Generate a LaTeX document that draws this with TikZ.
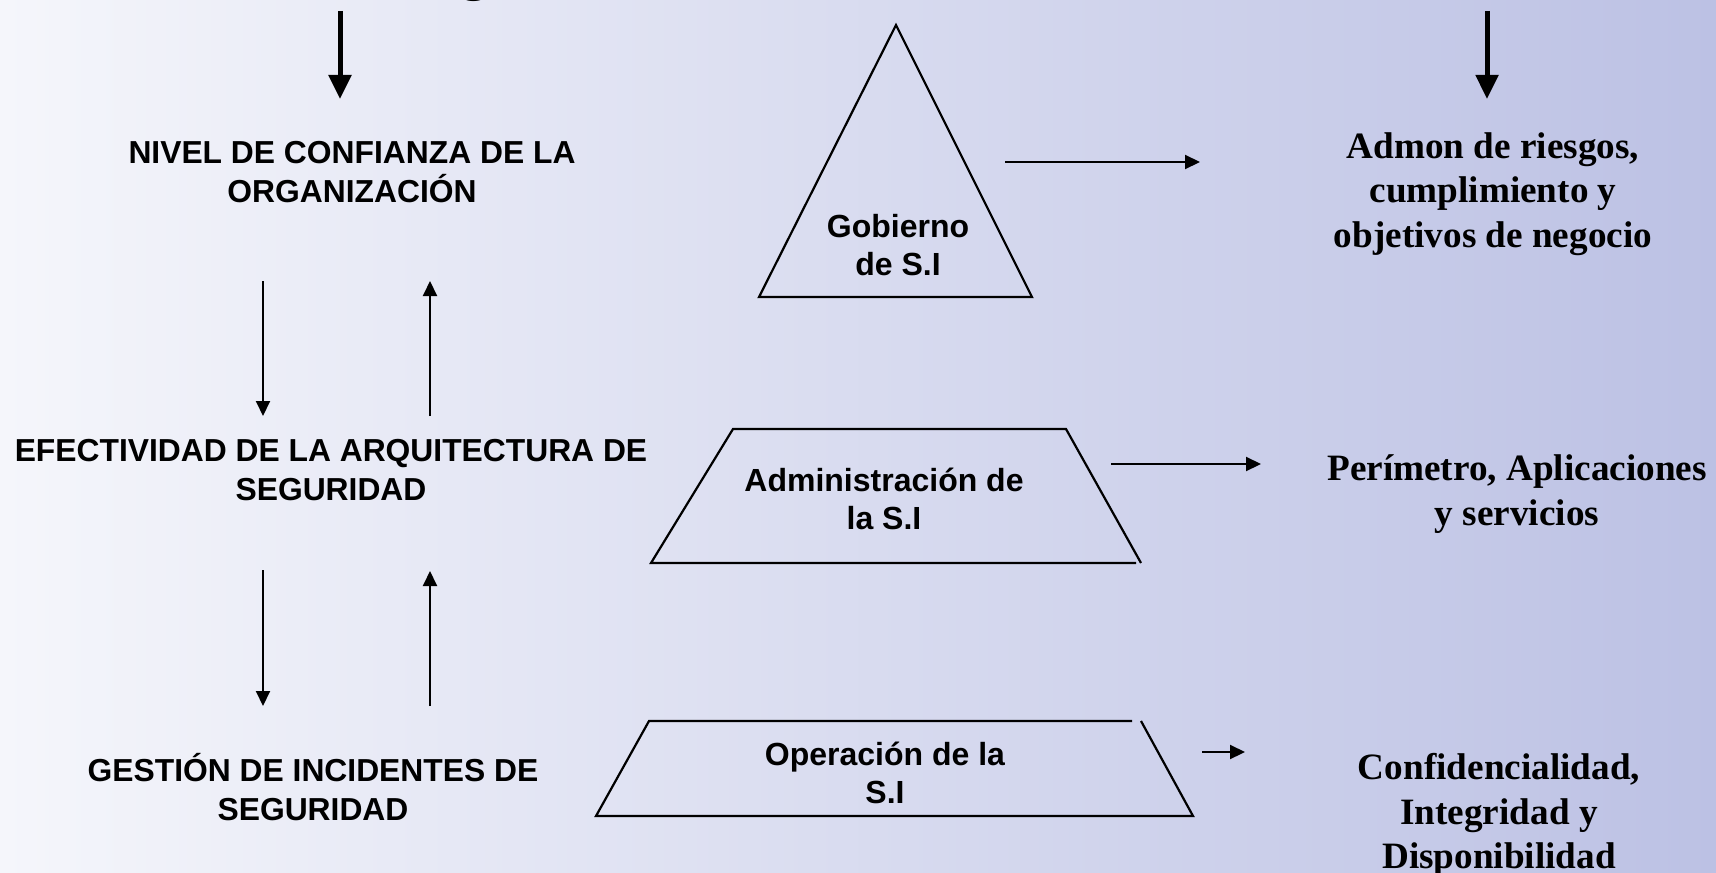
\documentclass[tikz,border=0pt]{standalone}
\usepackage{fontspec}
\setmainfont{Liberation Serif}
\setsansfont{Liberation Sans}
\usetikzlibrary{arrows.meta}

\definecolor{bgleft}{RGB}{245,246,251}
\definecolor{bgmid}{RGB}{216,220,239}
\definecolor{bgright}{RGB}{188,193,228}

\begin{document}
\begin{tikzpicture}[
  x=0.5pt, y=-0.5pt,
  level/.style = {font=\sffamily\bfseries\fontsize{15.9}{19.2}\selectfont, align=center, inner sep=0pt},
  layer/.style = {font=\sffamily\bfseries\fontsize{16}{18.8}\selectfont, align=center, inner sep=0pt},
  goal/.style  = {font=\rmfamily\bfseries\fontsize{18.6}{22.4}\selectfont, align=center, inner sep=0pt},
  frame/.style = {line width=1.1pt},
  bigarrow/.style = {line width=2.5pt, -{Triangle[length=12pt,width=11pt]}},
  flow/.style  = {line width=1pt, -{Triangle[length=7.5pt,width=7pt]}}
]
  \useasboundingbox (0,0) rectangle (1716,872);
  \shade[left color=bgleft, middle color=bgmid, right color=bgright] (0,0) rectangle (1716,872);

  % cut title
  \node[font=\rmfamily\fontsize{28}{30}\selectfont, anchor=base, inner sep=0pt] (title) at (474,-10) {g};

  % left column
  \node[level] (trust) at (352,172) {NIVEL DE CONFIANZA DE LA\\ORGANIZACIÓN};
  \node[level] (arch)  at (331,470) {EFECTIVIDAD DE LA ARQUITECTURA DE\\SEGURIDAD};
  \node[level] (incid) at (313,787) {GESTIÓN DE INCIDENTES DE\\SEGURIDAD};

  % pyramid
  \draw[frame] (896,25) -- (1032,297) -- (759,297) -- cycle;
  \draw[frame] (1136,563) -- (651,563) -- (733,429) -- (1066,429) -- (1141,563);
  \draw[frame] (1132,721) -- (649,721) -- (596,816) -- (1193,816) -- (1141,721);
  \node[layer] (gov) at (898,245) {Gobierno\\de S.I};
  \node[layer] (adm) at (884,499) {Administración de\\la S.I};
  \node[layer] (ops) at (885,773) {Operación de la\\S.I};

  % right column
  \node[goal] (risk)  at (1493,194) {Admon de riesgos,\\cumplimiento y\\objetivos de negocio};
  \node[goal] (perim) at (1517,494) {Perímetro, Aplicaciones\\y servicios};
  \node[goal] (cia)   at (1499,815) {Confidencialidad,\\Integridad y\\Disponibilidad};

  % arrow ends
  \coordinate (lefttop) at (340,11);  \coordinate (leftend) at (340,99);
  \coordinate (righttop) at (1487,11); \coordinate (rightend) at (1487,99);
  \coordinate (down1a) at (263,281); \coordinate (down1b) at (263,416);
  \coordinate (up1a) at (430,416);   \coordinate (up1b) at (430,281);
  \coordinate (down2a) at (263,570); \coordinate (down2b) at (263,706);
  \coordinate (up2a) at (430,706);   \coordinate (up2b) at (430,571);
  \coordinate (gova) at (1005,162);  \coordinate (govb) at (1200,162);
  \coordinate (adma) at (1111,464);  \coordinate (admb) at (1261,464);
  \coordinate (opsa) at (1202,752);  \coordinate (opsb) at (1245,752);

  \draw[bigarrow] (lefttop) -- (leftend);
  \draw[bigarrow] (righttop) -- (rightend);
  \foreach \a/\b in {down1a/down1b, up1a/up1b, down2a/down2b, up2a/up2b, gova/govb, adma/admb, opsa/opsb}
    \draw[flow] (\a) -- (\b);
\end{tikzpicture}
\end{document}
